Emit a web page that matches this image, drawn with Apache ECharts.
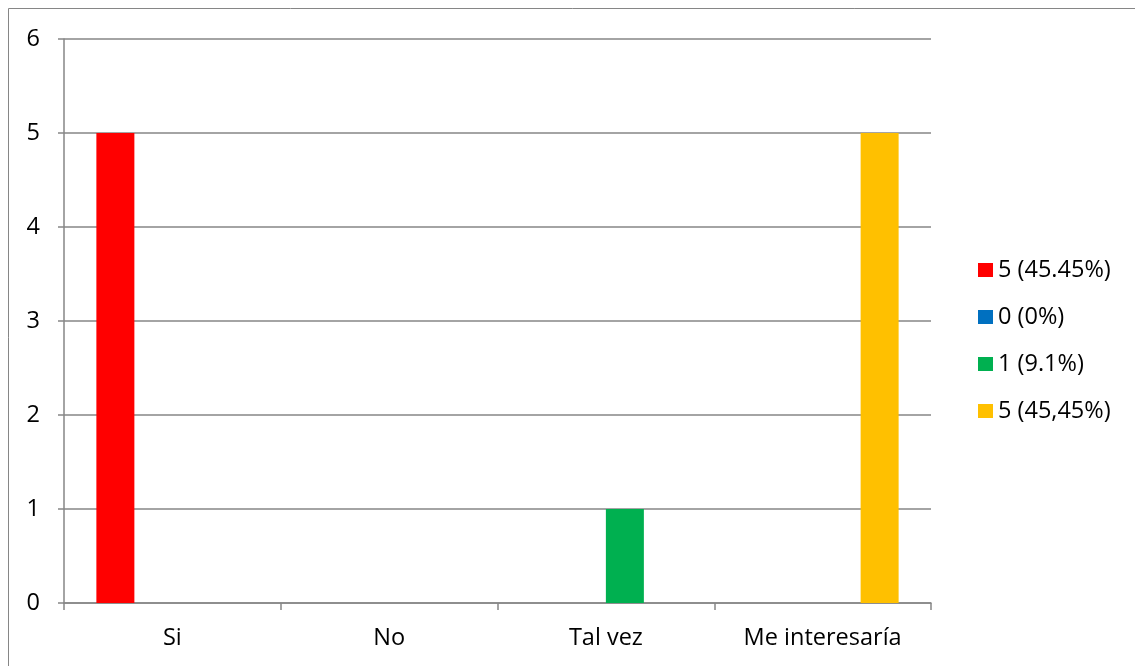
<!DOCTYPE html>
<html><head><meta charset="utf-8">
<script src="https://cdn.jsdelivr.net/npm/echarts@6/dist/echarts.min.js"></script>
<style>html,body{margin:0;padding:0;background:#fff}#c{width:1135px;height:666px}</style>
</head><body><div id="c"></div>
<script>
const categories = ['Si', 'No', 'Tal vez', 'Me interesaría'];
const seriesNames = ['5 (45.45%)', '0 (0%)', '1 (9.1%)', '5 (45,45%)'];
const seriesColors = ['#ff0000', '#0070c0', '#00b050', '#ffc000'];
const s1 = [5, null, null, null];
const s2 = [null, 0, null, null];
const s3 = [null, null, 1, null];
const s4 = [null, null, null, 5];
const yTicks = [0, 1, 2, 3, 4, 5, 6];
const seriesData = [s1, s2, s3, s4];

const chart = echarts.init(document.getElementById('c'));
const font = '"Open Sans", "Liberation Sans", sans-serif';
const fs = 23.5;
chart.setOption({
  animation: false,
  textStyle: { fontFamily: font },
  graphic: [{ type: 'rect', shape: { x: 8.5, y: 8.5, width: 1140, height: 680 }, style: { fill: 'none', stroke: '#868686', lineWidth: 1 }, silent: true }],
  grid: { left: 64, right: 204, top: 39, bottom: 63, containLabel: false },
  legend: {
    orient: 'vertical', left: 973, top: 253, itemWidth: 15, itemHeight: 14, itemGap: 23,
    icon: 'rect',
    textStyle: { fontSize: fs, color: '#000', fontFamily: font },
    data: seriesNames
  },
  xAxis: {
    type: 'category', data: categories,
    axisLine: { lineStyle: { color: '#868686', width: 1.5 } },
    axisTick: { show: true, length: 7, lineStyle: { color: '#868686', width: 1.5 } },
    axisLabel: { fontSize: fs, color: '#000', margin: 23 }
  },
  yAxis: {
    type: 'value', min: 0, max: 6, interval: 1,
    axisLine: { show: true, lineStyle: { color: '#868686', width: 1.5 } },
    axisTick: { show: true, length: 6, lineStyle: { color: '#868686', width: 1.5 } },
    axisLabel: { fontSize: fs, color: '#000', margin: 24 },
    splitLine: { lineStyle: { color: '#868686', width: 1.5 } }
  },
  series: seriesNames.map((n, i) => ({
    name: n, type: 'bar', data: seriesData[i],
    itemStyle: { color: seriesColors[i] },
    barWidth: 38, barGap: '0%'
  }))
});
</script></body></html>
